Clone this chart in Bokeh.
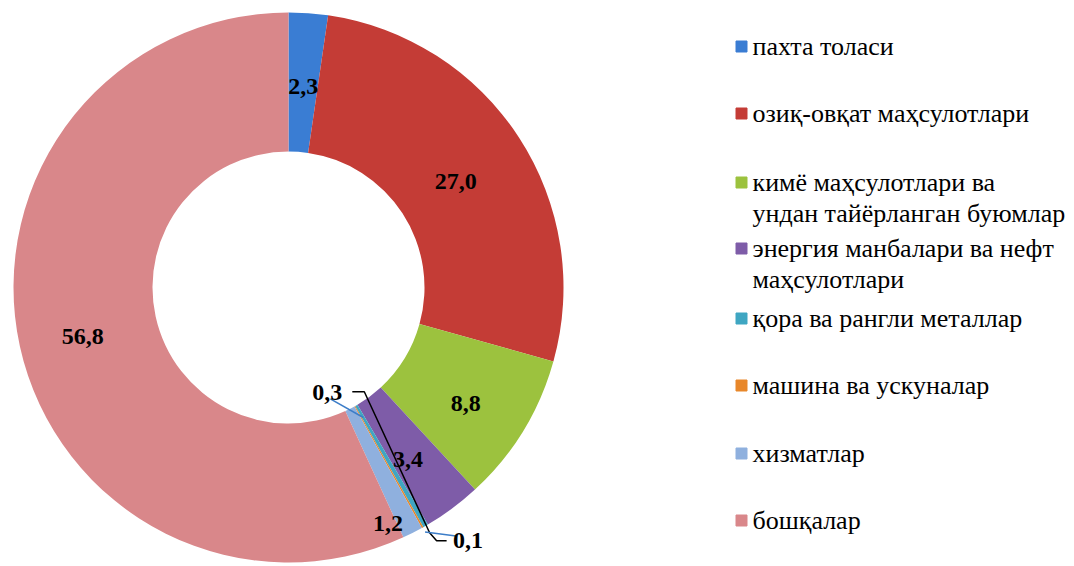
import math
from bokeh.plotting import figure
from bokeh.models import Range1d, ColumnDataSource
from bokeh.core.properties import value
from bokeh.embed import file_html
from bokeh.resources import INLINE

# ---- data ----
categories = [
    "пахта толаси",
    "озиқ-овқат маҳсулотлари",
    "кимё маҳсулотлари ва\nундан тайёрланган буюмлар",
    "энергия манбалари ва нефт\nмаҳсулотлари",
    "қора ва рангли металлар",
    "машина ва ускуналар",
    "хизматлар",
    "бошқалар",
]
values = [2.3, 27.0, 8.8, 3.4, 0.3, 0.1, 1.2, 56.8]
value_labels = ["2,3", "27,0", "8,8", "3,4", "0,3", "0,1", "1,2", "56,8"]

# ---- style / layout ----
colors = ["#3A7DD3", "#C43C36", "#9CC23E", "#7E5CA8", "#3FA6C2", "#E8872A", "#8FB0DE", "#D9878A"]
FONT = value("Liberation Serif")
W, H = 1074, 566
CX, CY_IMG = 288, 287
R_OUT, R_IN = 275, 136
R_MID = (R_OUT + R_IN) / 2

def Y(yimg):
    return H - yimg

CY = Y(CY_IMG)

total = sum(values)
cum = [0.0]
for v in values:
    cum.append(cum[-1] + v)
start_angles = [math.pi / 2 - 2 * math.pi * c / total for c in cum[:-1]]
end_angles = [math.pi / 2 - 2 * math.pi * c / total for c in cum[1:]]
mid_angles = [(a + b) / 2 for a, b in zip(start_angles, end_angles)]

def polar(r, a):
    return CX + r * math.cos(a), CY + r * math.sin(a)

p = figure(width=W, height=H, output_backend="svg", toolbar_location=None,
           x_range=Range1d(0, W), y_range=Range1d(0, H),
           min_border=0, min_border_left=0, min_border_right=0,
           min_border_top=0, min_border_bottom=0,
           x_axis_type=None, y_axis_type=None)
p.outline_line_color = None
p.xgrid.visible = False
p.ygrid.visible = False
p.background_fill_color = "white"
p.border_fill_color = "white"

src = ColumnDataSource(dict(start=start_angles, end=end_angles, color=colors))
p.annular_wedge(x=CX, y=CY, inner_radius=R_IN, outer_radius=R_OUT,
                start_angle="start", end_angle="end", direction="clock",
                fill_color="color", line_color=None, source=src)

# ---- data labels ----
# (radius, dx, dy) per label; dy in screen pixels (down positive)
label_layout = [
    (R_MID, 0, 4), (R_MID, -5, 6), (R_MID, 2, 9), (R_MID, -3, 7),
    (None, 0, 0), (None, 0, 0), (256, 0, 0), (R_MID, -5, 5),
]
lx, ly = [], []
for i, (r, dx, dy) in enumerate(label_layout):
    if i == 4:  # 0,3 inside the hole, left of its slice
        x0, y0 = polar(148, mid_angles[4])
        x, y = x0 - 35, y0 + 23
    elif i == 5:  # 0,1 outside the ring
        x0, y0 = polar(R_OUT + 5, mid_angles[5])
        x, y = x0 + 43, y0 - 9
    elif i == 6:
        x, y = polar(r, mid_angles[6] - math.radians(4))
    else:
        x, y = polar(r, mid_angles[i])
        x, y = x + dx, y - dy
    lx.append(x)
    ly.append(y)

# leader lines
t_in = polar(150, mid_angles[4])
p.line([lx[4] + 3, t_in[0]], [ly[4] - 6, t_in[1]], line_color="#3C7DC8", line_width=1.5)
t_out = polar(R_OUT + 8, mid_angles[4])
p.line([lx[4] + 25, lx[4] + 37, t_out[0], t_out[0] + 7, t_out[0] + 17],
       [ly[4] + 1, ly[4] + 1, t_out[1], t_out[1] - 8, t_out[1] - 8],
       line_color="black", line_width=1.5)
o_out = polar(R_OUT + 5, mid_angles[5])
p.line([o_out[0], lx[5] - 12], [o_out[1], ly[5] + 5], line_color="#3C7DC8", line_width=1.5)

p.text(x=lx, y=ly, text=value_labels, text_font=FONT,
       text_font_style="bold", text_font_size="24px", text_color="black",
       text_align="center", text_baseline="middle")

# ---- legend ----
legend_y_img = [46, 113, 182, 248, 318, 385, 453, 520]
LINE_H = 31
mx, my, tx, ty, tt = [], [], [], [], []
for name, yy in zip(categories, legend_y_img):
    mx.append(741)
    my.append(Y(yy))
    for k, line in enumerate(name.split("\n")):
        tx.append(752)
        ty.append(Y(yy + k * LINE_H))
        tt.append(line)
p.scatter(x=mx, y=my, marker="square", size=11, fill_color=colors,
          line_color=colors)
p.text(x=tx, y=ty, text=tt, text_font=FONT,
       text_font_size="26px", text_color="black",
       text_align="left", text_baseline="middle")

open("out.html", "w").write(file_html(p, INLINE))
